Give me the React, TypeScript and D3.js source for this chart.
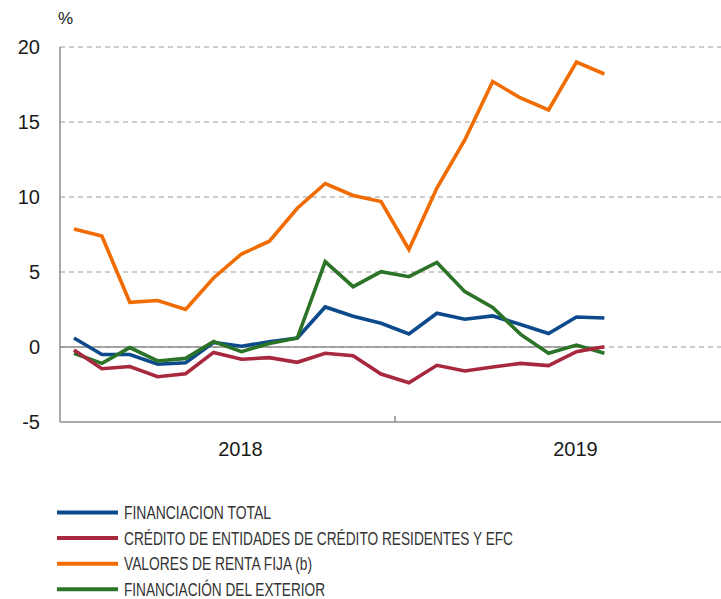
import React, { useRef, useEffect } from "react";
import * as d3 from "d3";

// monthly observations, Jan 2018 .. Aug 2019
const months = d3.range(20);
const yearLabels = [
  { year: "2018", at: 6 },
  { year: "2019", at: 18 },
];
const yTicks = [-5, 0, 5, 10, 15, 20];

const financiacionTotal = [0.6, -0.5, -0.5, -1.15, -1.05, 0.3, 0.05, 0.35, 0.6, 2.67, 2.05, 1.58, 0.87, 2.25, 1.85, 2.07, 1.5, 0.9, 2.0, 1.93];
const creditoEntidades = [-0.2, -1.45, -1.3, -1.98, -1.78, -0.36, -0.82, -0.71, -1.02, -0.42, -0.58, -1.8, -2.38, -1.22, -1.6, -1.33, -1.09, -1.24, -0.31, 0.02];
const valoresRentaFija = [7.87, 7.4, 2.98, 3.1, 2.5, 4.6, 6.2, 7.05, 9.25, 10.9, 10.1, 9.7, 6.5, 10.6, 13.8, 17.7, 16.6, 15.8, 19.0, 18.2];
const financiacionExterior = [-0.42, -1.09, -0.04, -0.93, -0.76, 0.36, -0.31, 0.24, 0.6, 5.69, 4.02, 5.02, 4.69, 5.64, 3.69, 2.64, 0.84, -0.42, 0.13, -0.42];

const series = [
  { name: "FINANCIACION TOTAL", color: "#0d4a8c", values: financiacionTotal },
  { name: "CRÉDITO DE ENTIDADES DE CRÉDITO RESIDENTES Y EFC", color: "#a8283e", values: creditoEntidades },
  { name: "VALORES DE RENTA FIJA (b)", color: "#f06c00", values: valoresRentaFija },
  { name: "FINANCIACIÓN DEL EXTERIOR", color: "#2b7326", values: financiacionExterior },
];
// order in which the lines are stacked on the plot
const drawOrder = [2, 0, 3, 1];
const legendWidths = [147, 389, 188, 201];

const W = 721;
const H = 599;

const App = () => {
  const ref = useRef<SVGSVGElement>(null);

  useEffect(() => {
    const svg = d3.select(ref.current);
    svg.selectAll("*").remove();

    const x = d3.scaleLinear().domain([-0.5, 23.5]).range([60, 730]);
    const y = d3.scaleLinear().domain([-5, 20]).range([422, 47]);
    const font = "'Liberation Sans', Arial, Helvetica, sans-serif";

    // gridlines
    svg.append("g")
      .selectAll("line")
      .data(yTicks.filter(t => t > -5))
      .join("line")
      .attr("x1", 60).attr("x2", W)
      .attr("y1", d => y(d)).attr("y2", d => y(d))
      .attr("stroke", "#bdbdbd")
      .attr("stroke-width", 1.5)
      .attr("stroke-dasharray", "5,4");

    // solid zero line over the data range
    svg.append("line")
      .attr("x1", 60).attr("x2", x(months[months.length - 1]))
      .attr("y1", y(0)).attr("y2", y(0))
      .attr("stroke", "#8c8c8c")
      .attr("stroke-width", 1.5);

    // axes
    svg.append("line")
      .attr("x1", 60).attr("x2", 60)
      .attr("y1", y(20)).attr("y2", y(-5))
      .attr("stroke", "#8c8c8c").attr("stroke-width", 1.5);
    svg.append("line")
      .attr("x1", 60).attr("x2", W)
      .attr("y1", y(-5)).attr("y2", y(-5))
      .attr("stroke", "#8c8c8c").attr("stroke-width", 1.5);
    svg.append("line")
      .attr("x1", x(11.5)).attr("x2", x(11.5))
      .attr("y1", y(-5)).attr("y2", y(-5) - 6)
      .attr("stroke", "#8c8c8c").attr("stroke-width", 1.5);

    // y tick labels
    svg.append("g")
      .selectAll("text")
      .data(yTicks)
      .join("text")
      .attr("x", 40)
      .attr("y", d => y(d) + 7)
      .attr("text-anchor", "end")
      .attr("font-family", font)
      .attr("font-size", 20)
      .attr("fill", "#1a1a1a")
      .text(d => d);

    svg.append("text")
      .attr("x", 58).attr("y", 24)
      .attr("font-family", font)
      .attr("font-size", 17)
      .attr("fill", "#1a1a1a")
      .text("%");

    // year labels
    svg.append("g")
      .selectAll("text")
      .data(yearLabels)
      .join("text")
      .attr("x", d => x(d.at) - 1)
      .attr("y", 456)
      .attr("text-anchor", "middle")
      .attr("font-family", font)
      .attr("font-size", 20)
      .attr("fill", "#1a1a1a")
      .text(d => d.year);

    // lines
    const line = d3.line<number>()
      .x((_, i) => x(months[i]))
      .y(d => y(d));

    svg.append("g")
      .selectAll("path")
      .data(drawOrder.map(i => series[i]))
      .join("path")
      .attr("d", d => line(d.values))
      .attr("fill", "none")
      .attr("stroke", d => d.color)
      .attr("stroke-width", 3.6)
      .attr("stroke-linejoin", "miter");

    // legend
    const legend = svg.append("g")
      .selectAll("g")
      .data(series)
      .join("g")
      .attr("transform", (_, i) => `translate(0, ${512.5 + i * 25.6})`);
    legend.append("line")
      .attr("x1", 57).attr("x2", 118)
      .attr("y1", 0).attr("y2", 0)
      .attr("stroke", d => d.color)
      .attr("stroke-width", 4);
    legend.append("text")
      .attr("x", 124)
      .attr("y", 6.5)
      .attr("font-family", "'Liberation Sans Narrow', 'Arial Narrow', 'Liberation Sans', sans-serif")
      .attr("font-size", 18)
      .attr("fill", "#333")
      .attr("textLength", (_, i) => legendWidths[i])
      .attr("lengthAdjust", "spacingAndGlyphs")
      .text(d => d.name);
  }, []);

  return (
    <svg
      ref={ref}
      width={W}
      height={H}
      style={{ position: "absolute", left: 0, top: 0, background: "#fff" }}
    />
  );
};

export default App;
